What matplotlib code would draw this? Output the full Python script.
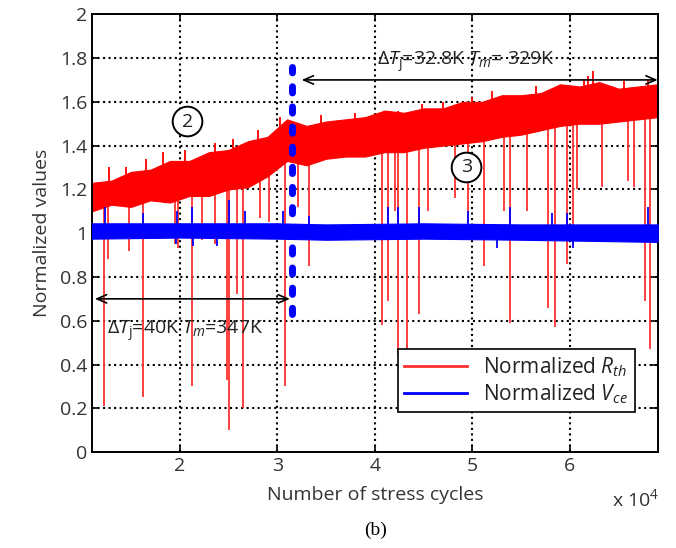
import matplotlib.pyplot as plt
import numpy as np
from matplotlib.lines import Line2D

plt.rcParams['font.family'] = ['Open Sans', 'DejaVu Sans']
plt.rcParams['mathtext.fontset'] = 'custom'
plt.rcParams['mathtext.rm'] = 'Open Sans'
plt.rcParams['mathtext.it'] = 'Open Sans:italic'

# Normalized Rth: noisy band (upper / lower envelope), x in 1e4 cycles
rth_x = [1.1, 1.3, 1.5, 1.7, 1.9, 2.1, 2.3, 2.5, 2.7, 2.9, 3.1, 3.3, 3.5, 3.7, 3.9,
         4.1, 4.3, 4.5, 4.7, 4.9, 5.1, 5.3, 5.5, 5.7, 5.9, 6.1, 6.3, 6.5, 6.7, 6.9]
rth_hi = [1.23, 1.24, 1.28, 1.29, 1.33, 1.33, 1.37, 1.38, 1.42, 1.44, 1.52, 1.49, 1.51,
          1.52, 1.53, 1.56, 1.55, 1.57, 1.57, 1.60, 1.60, 1.63, 1.63, 1.64, 1.68, 1.67,
          1.69, 1.66, 1.67, 1.68]
rth_lo = [1.10, 1.13, 1.12, 1.15, 1.14, 1.17, 1.17, 1.20, 1.21, 1.26, 1.33, 1.31, 1.34,
          1.35, 1.35, 1.37, 1.37, 1.39, 1.40, 1.41, 1.42, 1.44, 1.45, 1.47, 1.49, 1.50,
          1.50, 1.51, 1.52, 1.53]

# upward noise peaks of Rth
rth_peak_x = [1.27, 1.45, 1.65, 1.83, 2.05, 2.36, 2.55, 2.80, 3.03, 3.45, 3.80, 4.24,
              4.48, 4.70, 5.00, 5.20, 5.65, 6.14, 6.18, 6.24, 6.55, 6.80]
rth_peak_y = [1.30, 1.30, 1.34, 1.37, 1.38, 1.41, 1.43, 1.47, 1.53, 1.54, 1.55, 1.56,
              1.59, 1.60, 1.62, 1.65, 1.67, 1.70, 1.72, 1.74, 1.70, 1.70]

# downward spikes of Rth
rth_dip_x = [1.22, 1.26, 1.48, 1.62, 1.95, 1.98, 2.13, 2.23, 2.36, 2.48, 2.51, 2.59, 2.65,
             2.82, 2.92, 3.08, 3.21, 3.32, 4.07, 4.13, 4.21, 4.24, 4.33, 4.45, 4.54, 4.82,
             4.95, 5.12, 5.32, 5.39, 5.56, 5.78, 5.85, 5.97, 6.03, 6.07, 6.33, 6.59, 6.66,
             6.77, 6.82]
rth_dip_y = [0.21, 0.88, 0.92, 0.25, 0.95, 0.93, 0.30, 0.97, 0.95, 0.33, 0.10, 0.72, 0.20,
             1.07, 1.05, 0.30, 1.12, 0.85, 0.58, 0.69, 1.10, 0.45, 0.47, 0.63, 1.10, 1.16,
             1.05, 0.85, 1.10, 0.59, 1.10, 0.66, 0.57, 0.86, 0.94, 1.20, 1.21, 1.24, 1.21,
             0.69, 0.47]

# Normalized Vce band
vce_x = [1.1, 2.0, 3.0, 3.5, 4.5, 5.5, 6.2, 6.9]
vce_hi = [1.045, 1.045, 1.045, 1.04, 1.045, 1.04, 1.04, 1.04]
vce_lo = [0.975, 0.98, 0.975, 0.97, 0.975, 0.97, 0.965, 0.96]

vce_up_x = [1.23, 1.62, 1.97, 2.13, 2.51, 2.67, 3.06, 3.32, 4.13, 4.24, 4.45, 4.95, 5.39,
            5.82, 5.97, 6.80]
vce_up_y = [1.12, 1.09, 1.10, 1.12, 1.15, 1.10, 1.10, 1.08, 1.12, 1.12, 1.12, 1.10, 1.12,
            1.09, 1.09, 1.12]
vce_dn_x = [1.96, 2.14, 2.38, 5.25, 6.03]
vce_dn_y = [0.95, 0.94, 0.94, 0.93, 0.93]

x_ticks = [2, 3, 4, 5, 6]
y_ticks = [0, 0.2, 0.4, 0.6, 0.8, 1, 1.2, 1.4, 1.6, 1.8, 2]

red = "#ff0000"
blue = "#0000ff"

fig = plt.figure(figsize=(6.76, 5.48), dpi=100)
ax = fig.add_axes([0.136, 0.175, 0.837, 0.799])

ax.set_xlim(1.1, 6.9)
ax.set_ylim(0, 2)
ax.set_xticks(x_ticks)
ax.set_xticklabels([str(t) for t in x_ticks])
ax.set_yticks(y_ticks)
ax.set_yticklabels(["%g" % t for t in y_ticks])

# dotted grid (kept above zorder 2, data drawn over it)
for t in x_ticks:
    ax.axvline(t, color="black", lw=1.5, ls=":", zorder=2.05)
for t in y_ticks[1:-1]:
    ax.axhline(t, color="black", lw=1.5, ls=":", zorder=2.05)

# Rth
mid_lo = np.interp(rth_dip_x, rth_x, rth_lo) + 0.03
ax.vlines(rth_dip_x, rth_dip_y, mid_lo, color="#ff3030", lw=1.3, zorder=2.2)
mid_hi = np.interp(rth_peak_x, rth_x, rth_hi) - 0.03
ax.vlines(rth_peak_x, mid_hi, rth_peak_y, color=red, lw=1.3, zorder=2.2)
ax.fill_between(rth_x, rth_lo, rth_hi, color=red, lw=0.8, zorder=2.3)

# Vce
ax.fill_between(vce_x, vce_lo, vce_hi, color=blue, lw=0.8, zorder=3)
ax.vlines(vce_up_x, 1.0, vce_up_y, color=blue, lw=1.3, zorder=3)
ax.vlines(vce_dn_x, vce_dn_y, 1.0, color=blue, lw=1.3, zorder=3)

# boundary between stages
ax.plot([3.15, 3.15], [0.63, 1.76], color=blue, lw=5,
        dashes=(0.9, 2.0), dash_capstyle="round", zorder=4)

# annotations
txt = "#222222"
ax.annotate("", xy=(3.25, 1.70), xytext=(6.9, 1.70),
            arrowprops=dict(arrowstyle="<->,head_length=0.7,head_width=0.3",
                            color="black", lw=1.2, shrinkA=0, shrinkB=0), zorder=5)
ax.text(4.02, 1.78, r"$\Delta T_{\mathrm{j}}$=32.8K $T_m$= 329K",
        fontsize=14, color=txt, va="center", ha="left", zorder=5)
ax.annotate("", xy=(1.13, 0.70), xytext=(3.13, 0.70),
            arrowprops=dict(arrowstyle="<->,head_length=0.7,head_width=0.3",
                            color="black", lw=1.2, shrinkA=0, shrinkB=0), zorder=5)
ax.text(1.25, 0.55, r"$\Delta T_{\mathrm{j}}$=40K $T_m$=347K",
        fontsize=14, color=txt, va="center", ha="left", zorder=5)

circ = dict(boxstyle="circle,pad=0.3", fc="white", ec="black", lw=1.4)
ax.text(2.08, 1.51, "2", fontsize=14, color=txt, ha="center", va="center",
        bbox=circ, zorder=5)
ax.text(4.94, 1.30, "3", fontsize=14, color=txt, ha="center", va="center",
        bbox=circ, zorder=5)

ax.tick_params(direction="in", length=5, width=1.2, labelsize=14,
               top=True, right=True, colors="black", labelcolor="#333333")
for s in ax.spines.values():
    s.set_linewidth(1.4)

ax.set_xlabel("Number of stress cycles", fontsize=14, color="#333333", labelpad=8)
ax.set_ylabel("Normalized values", fontsize=14, color="#333333", labelpad=6)
fig.text(0.905, 0.076, r"x 10$^{4}$", fontsize=14, color="#333333")
fig.text(0.555, 0.033, "(b)", fontsize=14, family="Liberation Serif",
         ha="center", va="center")

handles = [Line2D([], [], color="#ff3030", lw=2),
           Line2D([], [], color=blue, lw=2)]
leg = ax.legend(handles, [r"Normalized $R_{th}$", r"Normalized $V_{ce}$"],
                loc="lower right", bbox_to_anchor=(0.959, 0.091), fontsize=15,
                frameon=True, fancybox=False, edgecolor="black", framealpha=1,
                handlelength=3.0, borderpad=0.3, labelspacing=0.15,
                handletextpad=0.8, borderaxespad=0)
leg.get_frame().set_linewidth(1.2)
leg.set_zorder(6)
for t in leg.get_texts():
    t.set_color("#222222")

fig.savefig("out.png", dpi=100)
